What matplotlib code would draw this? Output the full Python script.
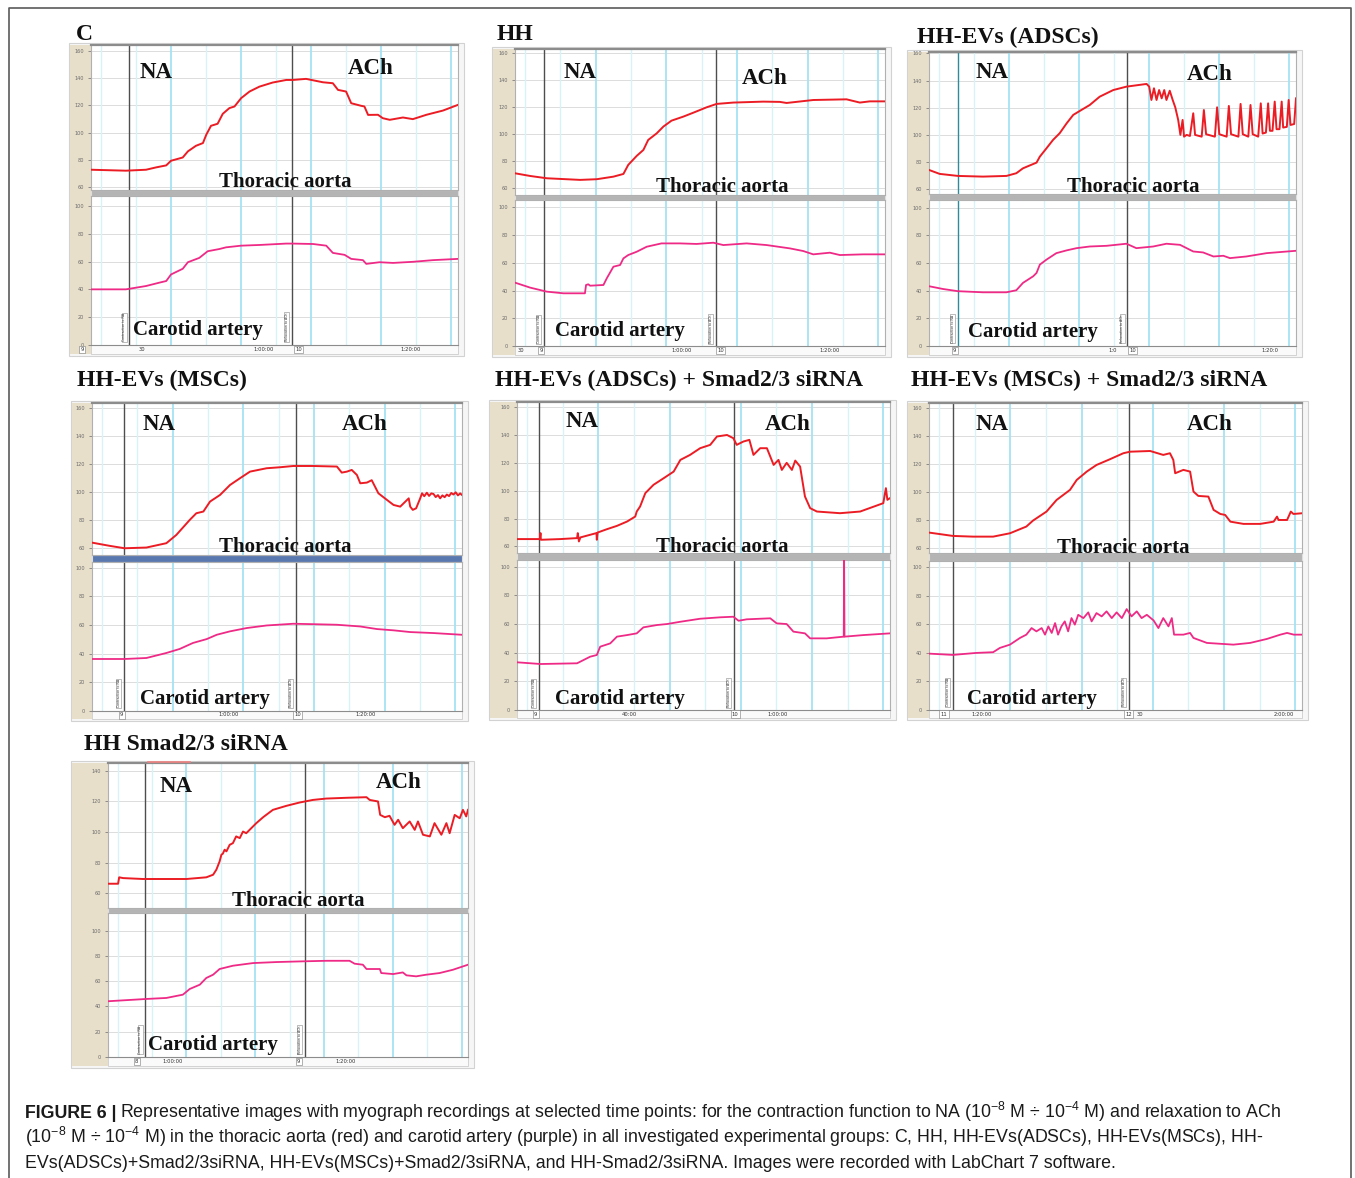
import numpy as np
import matplotlib
matplotlib.use('Agg')
import matplotlib.pyplot as plt
from matplotlib.patches import Rectangle
from matplotlib.lines import Line2D
from matplotlib import font_manager as fm

# ---------------- DATA (time in % of recording window, force in arbitrary units) -------------
C_AORTA_T = [0, 9.5, 15, 17.7, 20.5, 21.8, 25, 26.4, 28.6, 30.5, 31.4, 32.7, 34.5, 35.9, 37.7, 39.1, 40.9, 43.2, 45.9, 49.5,
             53.2, 55, 58.6, 63.2, 65.9, 67.3, 69.5, 70.9, 73.6, 74.5, 75.5, 78.2, 79.5, 81.4, 85, 87.7, 91.4, 95.9, 100]
C_AORTA_V = [72.7, 72.0, 72.7, 74.4, 75.9, 79.3, 81.7, 86.2, 90.3, 92.3, 98.4, 105, 106.5, 113.8, 118, 119.2, 125.3, 130.2, 133.8, 136.8,
             138.7, 138.7, 139.5, 137, 136.3, 131.4, 130.2, 121.6, 119.7, 119.2, 113, 113.1, 110.6, 109.4, 111.1, 109.9, 113.1, 116.2, 120.4]
C_CAROTID_T = [0, 9.5, 15, 18.6, 20.5, 21.8, 25, 26.4, 29.5, 31.8, 35, 36.8, 40.9, 45.9, 53.2, 55, 60.5, 64.1, 65.9, 69.1,
               70.9, 74.1, 75, 78.6, 82.3, 87.7, 93.2, 100]
C_CAROTID_V = [40, 40, 42.4, 44.8, 46, 50.7, 54.8, 59.5, 62.6, 67.4, 69, 70.2, 71.4, 71.9, 72.9, 72.9, 72.6, 71.4, 66.2, 64.8,
               61.9, 61, 58.3, 59.5, 59, 59.8, 61, 61.9]

HH_AORTA_T = [0, 4.1, 8.6, 17.6, 22.1, 26.6, 29.3, 30.6, 32.9, 34.7, 36, 38.3, 40.1, 42.3, 45.5, 48.2, 51.8, 54.5, 59, 67.1,
              71.6, 73.4, 80.6, 89.6, 93.2, 95.9, 100]
HH_AORTA_V = [71.1, 69.1, 67.4, 66.2, 66.7, 68.6, 70.6, 77.3, 84, 88.4, 95.8, 100.7, 105.7, 110.1, 113.1, 116, 120, 122.5, 123.5, 124.2,
              124, 123.2, 125.4, 125.9, 123.5, 124.4, 124.4]
HH_CAROTID_T = [0, 4.1, 8.6, 13.1, 18.9, 19.2, 19.8, 20.3, 23.9, 24.8, 26.6, 28.4, 29.3, 30.6, 32.9, 35.6, 39.6, 44.6, 49.1, 53.6,
                56.3, 62.6, 68, 74.3, 77.9, 80.6, 85.1, 87.8, 94.1, 100]
HH_CAROTID_V = [45.7, 42.1, 39.2, 38, 38, 44, 44.5, 43.5, 44, 48.8, 57.2, 58.4, 63.2, 65.6, 68, 71.6, 74, 74, 73.6, 74.5,
                72.8, 74, 72.8, 70.4, 68.5, 66.1, 67.3, 65.6, 66.1, 66.1]

ADSC_AORTA_T = [0, 2.9, 7.9, 14.7, 21.1, 23.8, 25.6, 29.3, 30.2, 32, 33.8, 35.6, 37.5, 39.3, 41.5, 43.8, 46.5, 50.2, 53.8, 59.3,
                60, 60.6, 61.3, 62, 62.7, 63.4, 64.1, 64.7, 65.6, 66.4, 67.1, 67.9, 68.5, 69.1, 69.5, 70.2, 71.1, 72, 72.5, 74.3,
                74.9, 75.5, 77.9, 78.5, 79.1, 81.1, 81.7, 82.3, 84.3, 84.9, 85.5, 87, 87.6, 88.2, 89.7, 90.4, 90.9, 91.8, 92.4, 92.9,
                93.6, 94.2, 94.7, 95.5, 96.1, 96.5, 97.5, 98, 98.5, 99.5, 100]
ADSC_AORTA_V = [74.2, 71.3, 69.8, 69.3, 69.8, 71.8, 75.4, 79.6, 84, 90.1, 96.3, 101.2, 108.5, 114.7, 118.3, 122, 128.1, 133, 135.5, 137.5,
                135.5, 125.7, 134.3, 125.7, 133, 126.9, 133, 125.7, 132.5, 125.7, 120.3, 111, 100, 111, 98.7, 100, 99.2, 115.9, 100, 98.7,
                118.3, 100.5, 98.7, 120.3, 100.5, 98.7, 121.3, 100.5, 98.7, 122.8, 100.5, 98.7, 122, 100.5, 98.7, 123.2, 101, 101.7, 123.2, 103,
                103, 124.5, 104.2, 104.2, 124.5, 105.4, 105.9, 125.7, 107.3, 108, 126.9]
ADSC_CAROTID_T = [0, 3.8, 7.9, 14.7, 21.1, 23.8, 25.6, 28.4, 29.3, 30.2, 32, 34.7, 37.5, 40.2, 43.8, 48.4, 53.8, 56.5, 61.1, 64.7,
                  68.4, 72, 74.7, 77.5, 80.2, 82, 86.5, 92, 100]
ADSC_CAROTID_V = [43.2, 41.2, 39.6, 38.8, 38.8, 40.3, 45.6, 50.4, 52.8, 58.8, 62.4, 67.1, 69.1, 70.7, 71.9, 72.4, 73.9, 70.7, 71.9, 73.9,
                  73.1, 68.3, 67.6, 64.7, 65.2, 63.5, 64.7, 67.1, 68.8]

MSC_AORTA_T = [0, 4.8, 8.8, 14.7, 20.1, 22.8, 26.4, 28.2, 30.1, 31.9, 34.6, 37.3, 40, 42.7, 47.2, 50.8, 54.4, 59.8, 66.2, 67.5,
               68.9, 70.2, 71.6, 72.5, 74.3, 75.6, 77.4, 79.7, 81.5, 83.3, 84.7, 85.6, 86, 86.7, 87.6, 88.7, 89.2, 89.8, 90.5, 91.1,
               91.7, 92.3, 92.9, 93.5, 94.1, 94.7, 95.3, 95.9, 96.5, 97.1, 97.7, 98.3, 98.9, 99.5, 100]
MSC_AORTA_V = [64, 61.7, 60, 60.5, 63.6, 69.5, 80.1, 84.9, 86.1, 93.2, 97.9, 105, 109.8, 114.5, 116.9, 117.6, 118.5, 118.5, 118.1, 113.8,
               114.5, 115.7, 112.1, 106.2, 106.7, 108.4, 99.1, 94.4, 90.8, 89.6, 93.2, 95.5, 89.6, 87.3, 88.4, 95.5, 99.1, 97.0, 99.5, 97.2,
               99.0, 98.6, 96.4, 97.8, 95.5, 97.6, 96.3, 98.2, 97.1, 99.3, 98.2, 99.8, 97.6, 99.0, 97.9]
MSC_CAROTID_T = [0, 8.8, 14.7, 20.1, 23.7, 27.3, 31, 33.7, 37.3, 41.8, 47.2, 54.4, 59.8, 66.2, 72.5, 77, 81.5, 86, 92.3, 100]
MSC_CAROTID_V = [36.3, 36.3, 37, 40.5, 43.3, 47.5, 50.2, 53.2, 55.6, 57.9, 59.7, 60.9, 60.6, 60.2, 59, 57.2, 56.3, 55.1, 54.4, 53.2]

ADSM_AORTA_T = [0, 6.1, 6.3, 6.4, 11.6, 16.1, 16.3, 16.6, 17, 21.3, 21.4, 21.6, 24.1, 26.8, 29.5, 31.7, 32.1, 33, 34.4, 36.6,
                39.3, 42, 43.8, 46.4, 49.1, 51.8, 53.6, 56.3, 58, 58.9, 60.7, 62.3, 63.4, 65.2, 67, 68.8, 70.1, 71, 72.3, 73.7,
                74.6, 75.9, 77.2, 78.6, 80.4, 86.6, 92, 98.2, 98.9, 99.3, 100]
ADSM_AORTA_V = [65.3, 65.3, 69.6, 64.8, 65.3, 66, 69.6, 63.6, 66.5, 69.6, 64.8, 70, 72.4, 74.8, 77.9, 81.5, 85.1, 88.7, 98.3, 104.3,
                109, 113.8, 122.2, 125.8, 130.6, 133, 139, 140.1, 137.8, 133, 135.4, 136.6, 125.8, 130.6, 130.6, 118.6, 122.2, 115, 120.1, 115,
                121.7, 117.4, 95.9, 87.5, 85.1, 83.9, 85.1, 91.1, 101.9, 93.5, 94.7]
ADSM_CAROTID_T = [0, 6.3, 16.1, 19.6, 21.4, 22.3, 25, 26.8, 29.5, 32.1, 33.9, 37.5, 40.2, 43.8, 49.1, 54.5, 58, 59.4, 61.6, 67.9,
                  69.6, 72.3, 74.1, 77.2, 78.6, 83, 87.6, 87.7, 87.8, 92.9, 100]
ADSM_CAROTID_V = [33.3, 32.1, 32.6, 37.2, 38.4, 44.2, 46.5, 51.2, 52.3, 53.5, 57.7, 59.3, 60, 61.6, 63.7, 64.7, 65.1, 62.3, 63.3, 64,
                  60.5, 60, 54.7, 53.5, 50, 50, 51.2, 105.8, 51.2, 52.3, 53.5]

MSM_AORTA_T = [0, 6.4, 11.8, 17.2, 21.7, 26.1, 27.9, 31.5, 34.2, 37.8, 39.6, 42.3, 44.9, 48.5, 52.1, 53.9, 59.3, 62.8, 64.6, 65.5,
               66, 68.2, 70, 70.9, 72.2, 74.9, 76.3, 78.1, 79.4, 80.8, 84.3, 88.8, 92.4, 93.3, 93.7, 96, 97, 97.7, 100]
MSM_AORTA_V = [71.2, 68.8, 68.3, 68.3, 70.7, 75.5, 79.8, 86.2, 94.5, 101.7, 108.8, 114.8, 119.5, 123.6, 127.9, 129, 129.5, 126.7, 127.9, 123.1,
               113.6, 116, 114.8, 100.5, 97.4, 96.9, 87.4, 84.5, 83.8, 79, 77.4, 77.4, 79, 82.6, 80.2, 80.2, 86.2, 84.5, 85]
MSM_CAROTID_T = [0, 6.4, 12.7, 17.2, 19, 21.7, 24.4, 26.1, 27.5, 28.8, 30.2, 31.1, 32, 32.9, 33.8, 34.6, 35.5, 36.4, 37.3, 38.2,
                 39.1, 40, 41.4, 42.7, 43.6, 44.9, 46.3, 47.6, 49, 50.3, 51.7, 53, 54.3, 55.7, 57, 58.4, 60.2, 61.5, 62.8, 64.2,
                 65.1, 65.7, 68.2, 70, 70.9, 74.5, 81.6, 86.1, 90.6, 94.2, 96, 97.8, 100]
MSM_CAROTID_V = [39.5, 38.6, 40, 40.5, 43.5, 45.8, 50.5, 52.8, 57.4, 55.1, 57.4, 52.8, 58.6, 54, 60.9, 52.8, 58.6, 62.1, 55.1, 64.4,
                 59.8, 66.7, 64.4, 68.4, 62.1, 67.9, 65.6, 69.1, 64.4, 68.4, 64.4, 70.7, 65.6, 69.1, 64.4, 66.7, 62.8, 57.4, 64.4, 58.6,
                 64.4, 52.8, 52.8, 54, 50.5, 47, 45.8, 47, 49.8, 52.8, 54, 52.8, 52.8]

HHS_AORTA_T = [0, 2.8, 3.1, 4.2, 9.7, 21.8, 27.3, 29.2, 30.1, 31, 31.5, 31.9, 32.4, 32.9, 33.8, 34.7, 35.6, 36.6, 37.5, 38.4,
               39.8, 41.2, 43.1, 45.8, 49.5, 53.2, 56.9, 60.6, 66.2, 71.8, 72.7, 75, 75.6, 76.9, 78.2, 79.6, 80.6, 81.9, 83.8, 85.2,
               86.1, 87.5, 89.4, 90.7, 92.6, 94, 94.9, 96.3, 97.7, 98.6, 99.5, 100]
HHS_AORTA_V = [66.1, 66.1, 70.3, 69.8, 69.2, 69.2, 70.3, 72, 75.3, 80.7, 85.1, 85.8, 88.4, 87.3, 91.6, 92.7, 97.1, 96, 100.3, 99.2,
               102.5, 105.8, 109.7, 114.5, 117.1, 119.3, 121, 121.9, 122.4, 122.8, 121, 120, 111.2, 109.7, 110.6, 104.7, 108, 102.5, 106.9, 101.4,
               106.9, 98.2, 97.1, 105.8, 98.2, 105.8, 99.2, 111.2, 109, 114.5, 110.2, 114.5]
HHS_CAROTID_T = [0, 10.6, 16.2, 20.8, 22.7, 25.5, 27.3, 29.2, 31, 34.7, 40.3, 46.8, 53.2, 60.6, 67.1, 68.5, 70.8, 71.8, 75.5, 75.9,
                 79.2, 81.9, 82.9, 85.6, 88.4, 92.1, 95.8, 100]
HHS_CAROTID_V = [44.1, 45.9, 46.7, 49.3, 53.8, 57.2, 62.5, 65.1, 69.6, 72.2, 74.3, 75.1, 75.6, 76.1, 76.1, 73.8, 73, 69.6, 69.6, 66.4,
                 65.6, 66.9, 64.6, 63.8, 65.1, 66.4, 69, 73]

PANEL_TITLES = ['C', 'HH', 'HH-EVs (ADSCs)', 'HH-EVs (MSCs)', 'HH-EVs (ADSCs) + Smad2/3 siRNA',
                'HH-EVs (MSCs) + Smad2/3 siRNA', 'HH Smad2/3 siRNA']
NA_TIMES = [10.4, 7.8, 7.9, 8.6, 5.9, 6.4, 10.3]
ACH_TIMES = [54.8, 54.3, 54.0, 55.1, 58.2, 53.6, 54.7]
TOP_TICKS = [[60, 80, 100, 120, 140, 160]] * 6 + [[60, 80, 100, 120, 140]]
BOTTOM_TICKS = [0, 20, 40, 60, 80, 100]
TIME_LABELS = [
    [(-2.5, '9', True), (14, '30', False), (47, '1:00:00', False), (56.5, '10', True), (87, '1:20:00', False)],
    [(1.5, '30', False), (7.0, '9', True), (45, '1:00:00', False), (55.5, '10', True), (85, '1:20:00', False)],
    [(7.0, '9', True), (50, '1:0', False), (55.5, '10', True), (93, '1:20:0', False)],
    [(8.0, '9', True), (37, '1:00:00', False), (55.5, '10', True), (74, '1:20:00', False)],
    [(5.0, '9', True), (30, '40:00', False), (58.5, '10', True), (70, '1:00:00', False)],
    [(4.0, '11', True), (14, '1:20:00', False), (53.5, '12', True), (56.5, '30', False), (95, '2:00:00', False)],
    [(8.0, '8', True), (18, '1:00:00', False), (53, '9', True), (66, '1:20:00', False)],
]
SERIES = [
    (C_AORTA_T, C_AORTA_V, C_CAROTID_T, C_CAROTID_V),
    (HH_AORTA_T, HH_AORTA_V, HH_CAROTID_T, HH_CAROTID_V),
    (ADSC_AORTA_T, ADSC_AORTA_V, ADSC_CAROTID_T, ADSC_CAROTID_V),
    (MSC_AORTA_T, MSC_AORTA_V, MSC_CAROTID_T, MSC_CAROTID_V),
    (ADSM_AORTA_T, ADSM_AORTA_V, ADSM_CAROTID_T, ADSM_CAROTID_V),
    (MSM_AORTA_T, MSM_AORTA_V, MSM_CAROTID_T, MSM_CAROTID_V),
    (HHS_AORTA_T, HHS_AORTA_V, HHS_CAROTID_T, HHS_CAROTID_V),
]

# ---------------- LAYOUT (pixels) ----------------
# box = strip_left, plot_left, plot_right, top_y0, sep_y0, sep_y1, bottom_y1, strip_y1
GEOM = [
    dict(t=(76, 35), box=(70, 91, 458, 45, 190, 196, 345, 354), ylt=(57.8, 164.4), ylb=(0.7, 107.1), sep='#b4b4b4',
         na=(156, 72), ach=(371, 68), ta=(285, 182), ca=(198, 330)),
    dict(t=(497, 35), box=(493, 515, 885, 49, 195, 200, 346, 355), ylt=(55.0, 163.2), ylb=(0.0, 105.3), sep='#b4b4b4',
         na=(580, 73), ach=(765, 78), ta=(722, 187), ca=(620, 331)),
    dict(t=(917, 37), box=(908, 929, 1296, 52, 194, 200, 346, 355), ylt=(56.5, 161.0), ylb=(0.5, 105.5), sep='#b4b4b4',
         na=(992, 73), ach=(1210, 75), ta=(1133, 187), ca=(1033, 332)),
    dict(t=(77, 380), box=(72, 92, 462, 403, 555, 562, 711, 719), ylt=(55.2, 163.3), ylb=(0.5, 104.0), sep='#5a78b0',
         na=(159, 424), ach=(365, 424), ta=(285, 547), ca=(205, 699)),
    dict(t=(495, 380), box=(490, 517, 890, 402, 553, 560, 710, 718), ylt=(55.3, 163.8), ylb=(0.0, 104.7), sep='#b4b4b4',
         na=(582, 422), ach=(788, 425), ta=(722, 547), ca=(620, 699)),
    dict(t=(911, 380), box=(908, 929, 1302, 403, 553, 561, 710, 718), ylt=(56.6, 163.8), ylb=(0.5, 104.4), sep='#b4b4b4',
         na=(992, 424), ach=(1210, 425), ta=(1123, 548), ca=(1032, 699)),
    dict(t=(84, 745), box=(72, 108, 468, 763, 908, 913, 1057, 1066), ylt=(50.2, 145.2), ylb=(0.5, 113.9), sep='#b4b4b4',
         na=(176, 787), ach=(399, 782), ta=(298, 901), ca=(213, 1045)),
]

W, H = 1355, 1178
fig = plt.figure(figsize=(W / 100, H / 100), dpi=100)
fig.patch.set_facecolor('white')

SERIF = 'Liberation Serif'
AORTA_C = '#ec1c24'
CAROTID_C = '#ee2a86'


def fx(x):
    return x / W


def fy(y):
    return 1 - y / H


def rect(x0, y0, x1, y1, fc, ec='none', lw=0.0, z=-5):
    fig.add_artist(Rectangle((fx(x0), fy(y1)), (x1 - x0) / W, (y1 - y0) / H, transform=fig.transFigure,
                             facecolor=fc, edgecolor=ec, linewidth=lw, zorder=z))


def style_axis(ax, ylim, ticks):
    ax.set_xlim(0, 100)
    ax.set_ylim(*ylim)
    ax.set_facecolor('white')
    for k in range(11):
        xv = 2.7 + 9.55 * k
        if xv >= 100:
            break
        bright = (k % 2 == 0 and k > 0)
        ax.axvline(xv, color='#a6e3f3' if bright else '#d7f2f9', lw=1.3 if bright else 1.0, zorder=0.5)
    for t in ticks:
        ax.axhline(t, color='#dcdcdc', lw=0.7, zorder=0.4)
    ax.set_xticks([])
    ax.set_yticks(ticks)
    ax.set_yticklabels([str(t) for t in ticks])
    ax.tick_params(axis='y', labelsize=3.6, length=2, pad=3, colors='#6a6a6a', width=0.5)
    for s in ax.spines.values():
        s.set_color('#b0b0b0')
        s.set_linewidth(0.8)


for i, g in enumerate(GEOM):
    sl, pl, pr, ty0, s0, s1, by1, sy1 = g['box']
    at, av, ct, cv = SERIES[i]
    # chart frame, tan scale strip, separator, time strip
    rect(sl - 1, ty0 - 2, pr + 6, sy1 + 2, fc='#f6f6f6', ec='#d2d2d2', lw=0.8, z=-7)
    rect(sl, ty0, pl, sy1, fc='#e8dfcb', z=-6)
    rect(pl, s0, pr, s1, fc=g['sep'], ec='#dedede', lw=0.8, z=-5)
    rect(pl, by1, pr, sy1, fc='#fafafa', ec='#c4c4c4', lw=0.5, z=-5)

    axt = fig.add_axes([fx(pl), fy(s0), (pr - pl) / W, (s0 - ty0) / H])
    axb = fig.add_axes([fx(pl), fy(by1), (pr - pl) / W, (by1 - s1) / H])
    style_axis(axt, g['ylt'], TOP_TICKS[i])
    style_axis(axb, g['ylb'], BOTTOM_TICKS)
    axt.spines['top'].set_color('#8c8c8c')
    axt.spines['top'].set_linewidth(1.6)
    axb.spines['bottom'].set_color('#8c8c8c')

    na_col = '#2c8c9c' if i == 2 else '#4e4e4e'
    for ax in (axt, axb):
        ax.axvline(NA_TIMES[i], color=na_col, lw=1.0, zorder=2)
        ax.axvline(ACH_TIMES[i], color='#4e4e4e', lw=1.0, zorder=2)

    axt.plot(at, av, color=AORTA_C, lw=1.4, zorder=3, solid_joinstyle='round')
    axb.plot(ct, cv, color=CAROTID_C, lw=1.3, zorder=3, solid_joinstyle='round')

    # rotated comment markers
    for xv, lab in ((NA_TIMES[i], 'Contraction to NA'), (ACH_TIMES[i], 'Relaxation to ACh')):
        axb.text(xv - 1.4, g['ylb'][0] + 2, lab, rotation=90, fontsize=2.3, ha='center', va='bottom', color='#333',
                 zorder=4, bbox=dict(boxstyle='square,pad=0.15', fc='white', ec='#888', lw=0.4))

    # time strip labels
    ymid = (by1 + sy1) / 2
    for xp, lab, boxed in TIME_LABELS[i]:
        xpix = pl + xp / 100 * (pr - pl)
        kw = dict(bbox=dict(boxstyle='square,pad=0.25', fc='white', ec='#777', lw=0.4)) if boxed else {}
        fig.text(fx(xpix), fy(ymid), lab, fontsize=3.8, ha='center', va='center', color='#333', zorder=8, **kw)

    # titles and annotations
    fig.text(fx(g['t'][0]), fy(g['t'][1]), PANEL_TITLES[i], fontfamily=SERIF, fontweight='bold', fontsize=17,
             ha='left', va='center', color='#111', zorder=10)
    fig.text(fx(g['na'][0]), fy(g['na'][1]), 'NA', fontfamily=SERIF, fontweight='bold', fontsize=16.5,
             ha='center', va='center', color='#111', zorder=10)
    fig.text(fx(g['ach'][0]), fy(g['ach'][1]), 'ACh', fontfamily=SERIF, fontweight='bold', fontsize=16.5,
             ha='center', va='center', color='#111', zorder=10)
    fig.text(fx(g['ta'][0]), fy(g['ta'][1]), 'Thoracic aorta', fontfamily=SERIF, fontweight='bold', fontsize=15,
             ha='center', va='center', color='#111', zorder=10)
    fig.text(fx(g['ca'][0]), fy(g['ca'][1]), 'Carotid artery', fontfamily=SERIF, fontweight='bold', fontsize=15,
             ha='center', va='center', color='#111', zorder=10)

# small marker bar at top of last panel
fig.add_artist(Line2D([fx(148), fx(190)], [fy(762), fy(762)], transform=fig.transFigure, color='#f08080', lw=1.2, zorder=9))

# outer frame (left, top, right)
fig.add_artist(Line2D([fx(9), fx(9), fx(1351), fx(1351)], [0, fy(8), fy(8), 0], transform=fig.transFigure,
                      color='#5a5a5a', lw=1.2, zorder=12))


# ---------------- CAPTION ----------------
def pick_font(names):
    for n in names:
        try:
            fm.findfont(fm.FontProperties(family=n), fallback_to_default=False)
            return n
        except Exception:
            pass
    return 'DejaVu Sans'


cap_font = pick_font(['Liberation Sans Narrow', 'Liberation Sans', 'Arial'])
plt.rcParams['mathtext.fontset'] = 'custom'
plt.rcParams['mathtext.rm'] = cap_font
plt.rcParams['mathtext.it'] = cap_font
plt.rcParams['mathtext.bf'] = cap_font + ':bold'
plt.rcParams['mathtext.sf'] = cap_font

L1 = ('Representative images with myograph recordings at selected time points: for the contraction function to NA '
      '(10$^{-8}$ M ÷ 10$^{-4}$ M) and relaxation to ACh')
L2 = ('(10$^{-8}$ M ÷ 10$^{-4}$ M) in the thoracic aorta (red) and carotid artery (purple) in all investigated '
      'experimental groups: C, HH, HH-EVs(ADSCs), HH-EVs(MSCs), HH-')
L3 = ('EVs(ADSCs)+Smad2/3siRNA, HH-EVs(MSCs)+Smad2/3siRNA, and HH-Smad2/3siRNA. Images were recorded with '
      'LabChart 7 software.')

renderer = fig.canvas.get_renderer()
base = 12
cx0, cx1 = 25, 1281
ybase = [1118, 1143, 1168]
tb = fig.text(fx(cx0), fy(ybase[0]), 'FIGURE 6 |', fontfamily=cap_font, fontweight='bold', fontsize=base,
              va='baseline', ha='left', color='#1a1a1a')
t1 = fig.text(fx(cx0), fy(ybase[0]), L1, fontfamily=cap_font, fontsize=base, va='baseline', ha='left', color='#1a1a1a')
wb = tb.get_window_extent(renderer).width
w1 = t1.get_window_extent(renderer).width
gap = 4
size = base * (cx1 - cx0 - gap) / (wb + w1)
tb.set_fontsize(size)
t1.set_fontsize(size)
wb = tb.get_window_extent(renderer).width
t1.set_position((fx(cx0 + wb + gap), fy(ybase[0])))
fig.text(fx(cx0), fy(ybase[1]), L2, fontfamily=cap_font, fontsize=size, va='baseline', ha='left', color='#1a1a1a')
fig.text(fx(cx0), fy(ybase[2]), L3, fontfamily=cap_font, fontsize=size, va='baseline', ha='left', color='#1a1a1a')

fig.savefig('out.png', dpi=100, facecolor='white')
